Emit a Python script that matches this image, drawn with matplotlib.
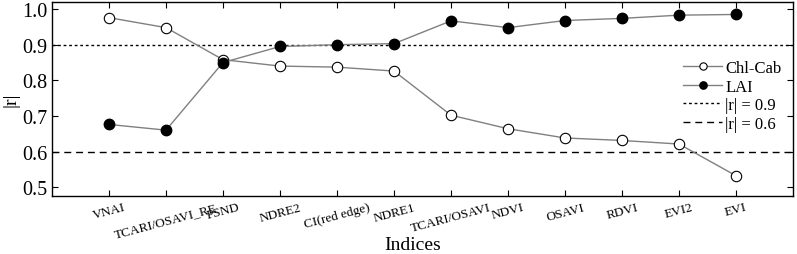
"""Correlation |r| of vegetation indices with Chl-Cab and LAI."""

import matplotlib
matplotlib.use("Agg")
import matplotlib.pyplot as plt
import numpy as np

plt.rcParams.update({
    "font.family": ["Liberation Serif", "DejaVu Serif"],
})

indices = ["VNAI", "TCARI/OSAVI_RE", "PSND", "NDRE2", "CI(red edge)", "NDRE1",
           "TCARI/OSAVI", "NDVI", "OSAVI", "RDVI", "EVI2", "EVI"]
chl_cab = [0.976, 0.948, 0.858, 0.840, 0.837, 0.826, 0.702, 0.664, 0.638, 0.631, 0.621, 0.532]
lai = [0.676, 0.660, 0.850, 0.895, 0.900, 0.903, 0.967, 0.948, 0.968, 0.974, 0.983, 0.985]
thresholds = [0.9, 0.6]


def main() -> None:
    fig = plt.figure(figsize=(7.97, 2.55), dpi=100)
    ax = fig.add_axes([52 / 797, 58 / 255, 741 / 797, 194 / 255])
    x = np.arange(len(indices))

    ax.plot(x, chl_cab, color="#808080", lw=1.0, marker="o", ms=7.5,
            mfc="white", mec="black", mew=0.8, label="Chl-Cab", zorder=3)
    ax.plot(x, lai, color="#808080", lw=1.0, marker="o", ms=7.5,
            mfc="black", mec="black", label="LAI", zorder=3)
    ax.axhline(thresholds[0], color="black", lw=1.0, ls=(0, (2, 2)), label="|r| = 0.9")
    ax.axhline(thresholds[1], color="black", lw=1.0, ls=(0, (5, 3.5)), label="|r| = 0.6")

    ax.set_xlim(-1, len(indices))
    ax.set_ylim(0.475, 1.02)
    ax.set_yticks([0.5, 0.6, 0.7, 0.8, 0.9, 1.0])
    ax.set_xticks(x)
    ax.set_xticklabels(indices, rotation=15, ha="center", fontsize=9.5)
    ax.tick_params(axis="y", labelsize=14.5)
    ax.tick_params(direction="in", top=True, right=True, length=4, width=0.8)
    for s in ax.spines.values():
        s.set_linewidth(1.0)

    ax.set_xlabel("Indices", fontsize=14)
    ax.xaxis.set_label_coords(0.487, -0.205)
    ax.set_ylabel("|r|", fontsize=14, labelpad=2)

    ax.legend(loc="upper right", bbox_to_anchor=(1.0, 0.76), frameon=False,
              fontsize=12, handlelength=2.3, handletextpad=0.2, labelspacing=0.15,
              borderaxespad=0.3, markerscale=0.7)

    fig.savefig("out.png", dpi=100)


if __name__ == "__main__":
    main()
